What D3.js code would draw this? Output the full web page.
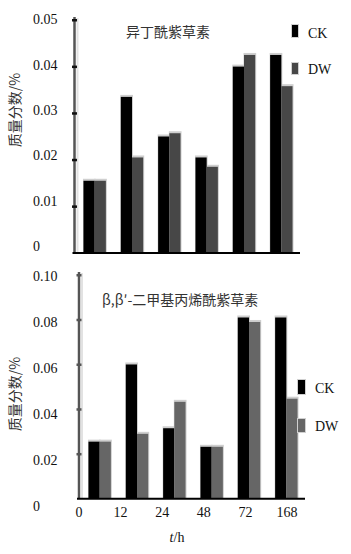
<!DOCTYPE html>
<html><head><meta charset="utf-8">
<script src="https://cdn.jsdelivr.net/npm/d3@7"></script>
<style>
html,body{margin:0;padding:0;background:#fff;}
svg{display:block;}
.num{font-family:"Liberation Serif","Times New Roman",serif;font-size:14px;fill:#111;}
.cjk{font-family:"Noto Sans CJK SC",sans-serif;font-size:14px;fill:#333;}
</style></head>
<body>
<script>
const categories = ["0", "12", "24", "48", "72", "168"];
const seriesNames = ["CK", "DW"];
// Panel 1: 异丁酰紫草素
const ck1 = [0.0155, 0.0335, 0.0250, 0.0205, 0.0400, 0.0425];
const dw1 = [0.0155, 0.0205, 0.0257, 0.0185, 0.0425, 0.0358];
const ticks1 = [0, 0.01, 0.02, 0.03, 0.04, 0.05];
const tickLabels1 = ["0", "0.01", "0.02", "0.03", "0.04", "0.05"];
// Panel 2: β,β′-二甲基丙烯酰紫草素
const ck2 = [0.0255, 0.0600, 0.0315, 0.0232, 0.0810, 0.0810];
const dw2 = [0.0255, 0.0290, 0.0433, 0.0232, 0.0790, 0.0447];
const ticks2 = [0, 0.02, 0.04, 0.06, 0.08, 0.10];
const tickLabels2 = ["0", "0.02", "0.04", "0.06", "0.08", "0.10"];

const svg = d3.select("body").append("svg").attr("width", 351).attr("height", 554);

function panel(cfg) {
  const g = svg.append("g");
  const x0 = d3.scaleBand().domain(categories).range(cfg.xRange).padding(0);
  const bw = x0.bandwidth();
  const x1 = d3.scaleBand().domain(seriesNames).range([0.2 * bw, 0.8 * bw]).padding(0);
  const y = d3.scaleLinear().domain([0, cfg.max]).range(cfg.yRange);
  const yLab = d3.scaleLinear().domain([0, cfg.max]).range(cfg.labRange);
  const data = categories.map((c, i) => ({c, CK: cfg.ck[i], DW: cfg.dw[i]}));
  const colors = {CK: "#000", DW: cfg.dwColor};

  // axis shadow stripe
  g.append("line").attr("x1", cfg.axisX + 3).attr("x2", cfg.axisX + 3)
    .attr("y1", y(cfg.max) - 2).attr("y2", y(0)).attr("stroke", "#e2e2e2").attr("stroke-width", 2);

  // bars (with light halo)
  const grp = g.selectAll("g.grp").data(data).join("g").attr("transform", d => `translate(${x0(d.c)},0)`);
  seriesNames.forEach(s => {
    grp.append("rect")
      .attr("x", x1(s) - 0.5).attr("width", x1.bandwidth() + 1.5)
      .attr("y", d => y(d[s]) - 2).attr("height", d => y(0) - y(d[s]) + 2)
      .attr("fill", "#cfcfcf");
  });
  seriesNames.forEach(s => {
    grp.append("rect")
      .attr("x", x1(s)).attr("width", x1.bandwidth())
      .attr("y", d => y(d[s])).attr("height", d => y(0) - y(d[s]))
      .attr("fill", colors[s]);
  });

  // y axis line
  g.append("line").attr("x1", cfg.axisX).attr("x2", cfg.axisX)
    .attr("y1", y(cfg.max) - 3).attr("y2", y(0)).attr("stroke", "#555").attr("stroke-width", 2.5);
  // tick marks
  g.selectAll("rect.tk").data(cfg.ticks.slice(1)).join("rect")
    .attr("x", cfg.axisX - 2.5).attr("width", 5).attr("y", d => y(d) - 1).attr("height", 2.5)
    .attr("fill", cfg.tickColor);
  // x axis line
  g.append("line").attr("x1", cfg.axisX - 2).attr("x2", cfg.xRange[1]).attr("y1", y(0)).attr("y2", y(0))
    .attr("stroke", "#000").attr("stroke-width", 2);

  // tick labels
  g.selectAll("text.tl").data(cfg.ticks).join("text").attr("class", "num")
    .attr("x", 33).attr("y", d => yLab(d)).attr("dy", "0.35em")
    .text((d, i) => cfg.tickLabels[i]);

  // title
  g.append("text").attr("class", "cjk").attr("x", cfg.titleX).attr("y", cfg.titleY).attr("dy", "0.35em")
    .text(cfg.title);

  // y label
  g.append("text").attr("class", "cjk").attr("transform", `translate(20,${cfg.ylabY}) rotate(-90)`)
    .attr("text-anchor", "middle").attr("fill", "#333")
    .text("质量分数/%");

  // legend
  seriesNames.forEach((s, i) => {
    const L = cfg.legend[i];
    g.append("rect").attr("x", L[0] - 1).attr("y", L[1] - 1).attr("width", L[2] + 2).attr("height", L[3] + 2).attr("fill", "#d0d0d0");
    g.append("rect").attr("x", L[0]).attr("y", L[1]).attr("width", L[2]).attr("height", L[3]).attr("fill", colors[s]);
    g.append("text").attr("class", "num").attr("x", L[4]).attr("y", L[5]).attr("dy", "0.35em").text(s);
  });
  return {x0};
}

panel({
  ck: ck1, dw: dw1, max: 0.05, ticks: ticks1, tickLabels: tickLabels1,
  xRange: [76, 300], yRange: [253, 20], labRange: [246, 19.5], axisX: 74.5,
  dwColor: "#474747", tickColor: "#111",
  title: "异丁酰紫草素", titleX: 126, titleY: 32, ylabY: 110,
  legend: [[292, 25, 6, 12, 308, 33], [292, 63, 6, 11, 308, 69]]
});

panel({
  ck: ck2, dw: dw2, max: 0.10, ticks: ticks2, tickLabels: tickLabels2,
  xRange: [81, 305], yRange: [498.7, 275], labRange: [506, 276], axisX: 79,
  dwColor: "#666", tickColor: "#555",
  title: "β,β′-二甲基丙烯酰紫草素", titleX: 102, titleY: 300, ylabY: 394,
  legend: [[298, 380, 7, 14, 315, 388], [298, 419, 7, 13, 315, 426]]
});

// x tick labels (bottom panel)
const xLab = d3.scalePoint().domain(categories).range([79, 287]);
svg.selectAll("text.xl").data(categories).join("text").attr("class", "num")
  .attr("x", d => xLab(d)).attr("y", 512).attr("dy", "0.35em").attr("text-anchor", "middle").text(d => d);

const xt = svg.append("text").attr("class", "num").attr("x", 177).attr("y", 537).attr("dy", "0.35em").attr("text-anchor", "middle");
xt.append("tspan").attr("font-style", "italic").text("t");
xt.append("tspan").text("/h");
</script>
</body></html>
